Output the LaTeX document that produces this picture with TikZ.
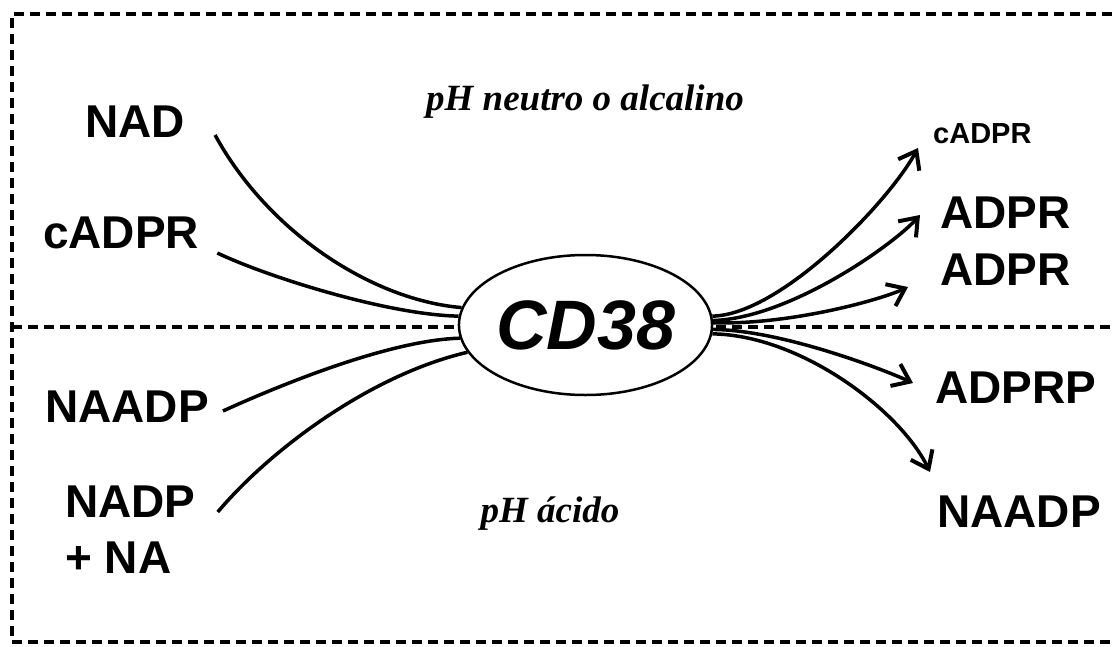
\documentclass[tikz,border=0pt]{standalone}
\usepackage{fontspec}
\setmainfont{Liberation Serif}
\newfontfamily\lsans{Liberation Sans}
\usetikzlibrary{arrows.meta,shapes.geometric}

\tikzset{
  lbl/.style={font=\lsans\bfseries\fontsize{46}{50}\selectfont, inner sep=0pt},
  small lbl/.style={font=\lsans\bfseries\fontsize{29}{32}\selectfont, inner sep=0pt},
  phtext/.style={font=\bfseries\itshape\fontsize{37}{40}\selectfont, inner sep=0pt},
  frame/.style={line width=4pt, dash pattern=on 10pt off 6pt},
  split/.style={line width=3.5pt, dash pattern=on 10pt off 6pt},
  flow/.style={line width=3.5pt},
  prod/.style={line width=3.5pt, -{Straight Barb[length=16pt,width=24pt,line width=4pt]}},
  enzyme/.style={ellipse, draw, line width=2.5pt, fill=white, minimum width=244pt,
    minimum height=140pt, inner sep=0pt,
    font=\lsans\bfseries\itshape\fontsize{70}{72}\selectfont}
}

\begin{document}
\begin{tikzpicture}[x=1pt,y=-1pt]
\useasboundingbox (0,0) rectangle (1112,646);

% outer frame (open on the right) and the pH divider
\draw[frame] (1112,14) -- (12,14) -- (12,642) -- (1112,642);
\draw[split] (12,327) -- (1112,327);

% condition labels
\node[phtext, anchor=base] (neutral) at (585,110) {pH neutro o alcalino};
\node[phtext, anchor=base] (acid) at (550,522) {pH ácido};

% substrates
\node[lbl, anchor=base west] (nad) at (85,137) {NAD};
\node[lbl, anchor=base west] (lcadpr) at (43,248) {cADPR};
\node[lbl, anchor=base west] (lnaadp) at (45,422) {NAADP};
\node[lbl, anchor=base west] (nadp) at (65,517) {NADP};
\node[lbl, anchor=base west] (na) at (65,573) {+ NA};

% products
\node[small lbl, anchor=base west] (rcadpr) at (933,143) {cADPR};
\node[lbl, anchor=base west] (adpra) at (940,228) {ADPR};
\node[lbl, anchor=base west] (adprb) at (940,285) {ADPR};
\node[lbl, anchor=base west] (adprp) at (935,403) {ADPRP};
\node[lbl, anchor=base west] (rnaadp) at (937,527) {NAADP};

% enzyme position (drawn last, over the line ends)
\coordinate (c) at (585.5,325);
\path (c) node[enzyme, draw=none, fill=none] (cd) {\phantom{CD38}};

% substrate curves into CD38
\draw[flow] ([shift={(30,-2)}]nad.base east) .. controls (268,232) and (372,300) .. (cd.172);
\draw[flow] ([shift={(18,5)}]lcadpr.base east) .. controls (270,278) and (390,315) .. (cd.176);
\draw[flow] ([shift={(14,-11)}]lnaadp.base east) .. controls (280,385) and (390,340) .. (cd.186);
\draw[flow] ([shift={(22,-5)}]nadp.base east) .. controls (270,450) and (370,375) .. (cd.193);

% product arrows out of CD38
\draw[prod] (cd.4) .. controls (780,315) and (888,203) .. ([shift={(-15,5)}]rcadpr.base west);
\draw[prod] (cd.2) .. controls (790,318) and (893,245) .. ([shift={(-20,-13)}]adpra.base west);
\draw[prod] (cd.1) .. controls (790,325) and (880,300) .. ([shift={(-32,2)}]adprb.base west);
\draw[prod] (cd.-2) .. controls (780,330) and (880,368) .. ([shift={(-22,-20)}]adprp.base west);
\draw[prod] (cd.-4) .. controls (800,335) and (900,410) .. ([shift={(-7,-55)}]rnaadp.base west);

% the enzyme itself
\node[enzyme] (cd38) at (c) {CD38};
\end{tikzpicture}
\end{document}
